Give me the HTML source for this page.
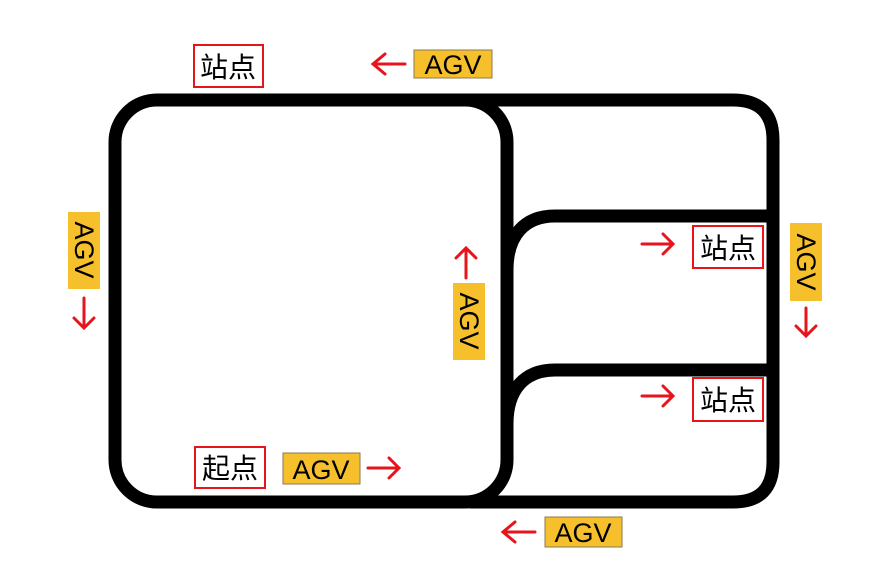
<!DOCTYPE html>
<html><head><meta charset="utf-8"><style>
body{margin:0;background:#fff}
svg{display:block}
.t{font-family:"Liberation Sans","Noto Sans CJK SC",sans-serif}
</style></head><body>
<svg width="880" height="585" viewBox="0 0 880 585" xmlns="http://www.w3.org/2000/svg">
<defs>
<marker id="ah" viewBox="0 0 10 10" refX="9" refY="5" markerWidth="4" markerHeight="4" orient="auto" markerUnits="strokeWidth">
<path d="M1,0.5 L9,5 L1,9.5" fill="none" stroke="#e8141b" stroke-width="2"/>
</marker>
</defs>
<g fill="none" stroke="#000" stroke-width="13" stroke-linejoin="round">
<rect x="115" y="100" width="392" height="402" rx="42"/>
<path d="M465,100 H733 Q773,100 773,140 V462 Q773,502 733,502 H470"/>
<path d="M773,216 H555 C525,216 507,235 507,270"/>
<path d="M773,370 H555 C525,370 507,389 507,424"/>
</g>
<g stroke="#e8141b" stroke-width="3" fill="none" stroke-linecap="round">
<path d="M405,64 H373 M385,54 L373,64 L385,74"/>
<path d="M84,298 V328 M74,318 L84,328 L94,318"/>
<path d="M466,278 V248 M456,258 L466,248 L476,258"/>
<path d="M806,308 V336 M796,326 L806,336 L816,326"/>
<path d="M642,244 H673 M663,234 L673,244 L663,254"/>
<path d="M642,396 H673 M663,386 L673,396 L663,406"/>
<path d="M368,468 H399 M389,458 L399,468 L389,478"/>
<path d="M535,532 H503 M515,522 L503,532 L515,542"/>
</g>
<g fill="#f6c02c" stroke="#8a7a50" stroke-width="1">
<rect x="414" y="50" width="78" height="28"/>
<rect x="283" y="453" width="77" height="31"/>
<rect x="545" y="517" width="77" height="30"/>
</g>
<g fill="#f6c02c">
<rect x="68" y="212" width="32" height="77"/>
<rect x="453" y="283" width="32" height="77"/>
<rect x="790" y="223" width="32" height="78"/>
</g>
<g class="t" font-size="27" fill="#000" text-anchor="middle">
<text x="453" y="74">AGV</text>
<text x="321" y="479">AGV</text>
<text x="583" y="542">AGV</text>
<text transform="translate(75,250) rotate(90)" x="0" y="0">AGV</text>
<text transform="translate(460,321) rotate(90)" x="0" y="0">AGV</text>
<text transform="translate(797,262) rotate(90)" x="0" y="0">AGV</text>
</g>
<g fill="#fff" stroke="#e8141b" stroke-width="2">
<rect x="194" y="45" width="69" height="42"/>
<rect x="693" y="226" width="70" height="42"/>
<rect x="693" y="378" width="70" height="43"/>
<rect x="195" y="447" width="70" height="41"/>
</g>
<g class="t" font-size="28" fill="#000" text-anchor="middle">
<text x="228" y="77">站点</text>
<text x="728" y="258">站点</text>
<text x="728" y="410">站点</text>
<text x="230" y="478">起点</text>
</g>
</svg>
</body></html>
